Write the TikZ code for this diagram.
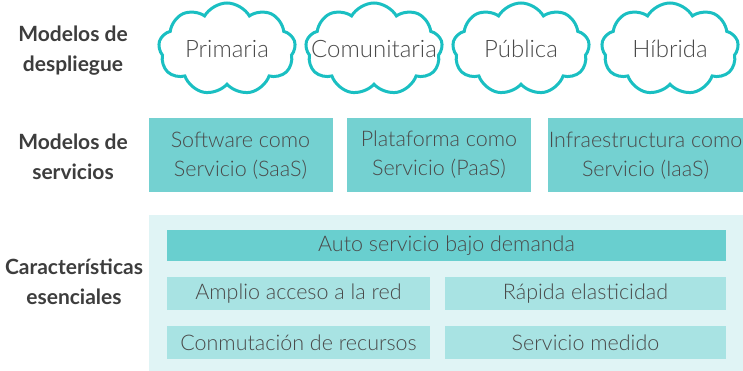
\documentclass[tikz,border=0pt]{standalone}
\usepackage{fontspec}
\setmainfont{Lato}
\newfontfamily\lightfont{Lato Light}
\usetikzlibrary{shapes.symbols}
\definecolor{cloudline}{HTML}{1ABFC2}
\definecolor{servfill}{HTML}{74D1D1}
\definecolor{barfill}{HTML}{69CFCF}
\definecolor{featfill}{HTML}{A8E3E3}
\definecolor{backfill}{HTML}{E0F4F5}
\definecolor{labeltext}{HTML}{3D3D3D}
\definecolor{boxtext}{HTML}{4A4A4A}
\newcommand{\cloudtext}[1]{\makebox[0pt][c]{#1}}

\begin{document}
\begin{tikzpicture}[
x=1pt, y=-1pt,
rowlabel/.style={align=center, text=labeltext, font=\bfseries\fontsize{21}{30}\selectfont},
cloudbox/.style={
    cloud, cloud puffs=9, cloud puff arc=120, aspect=1.5,
    draw=cloudline, line width=3pt, fill=white,
    minimum width=137pt, minimum height=92pt, inner sep=0pt,
    text=boxtext, font=\lightfont\fontsize{24}{28}\selectfont},
servbox/.style={
    fill=servfill, inner sep=0pt, align=center, minimum height=74pt,
    text=boxtext, font=\lightfont\fontsize{21.5}{29}\selectfont},
featbox/.style={
    fill=featfill, inner sep=0pt, minimum height=33pt,
    text=boxtext, font=\lightfont\fontsize{21.5}{24}\selectfont},
]
\useasboundingbox (0,0) rectangle (743,371);

\node[rowlabel] (deploy) at (73,51) {Modelos de\\despliegue};
\node[rowlabel] (service) at (73,157) {Modelos de\\servicios};
\node[rowlabel] (feature) at (74,282) {Características\\esenciales};

\node[cloudbox] (primaria) at (227,49) {\cloudtext{Primaria}};
\node[cloudbox] (comunitaria) at (374,49) {\cloudtext{Comunitaria}};
\node[cloudbox] (publica) at (521,49) {\cloudtext{Pública}};
\node[cloudbox] (hibrida) at (670,49) {\cloudtext{Híbrida}};

\node[servbox, minimum width=184pt] (saas) at (240.5,155.5) {Software como\\Servicio (SaaS)};
\node[servbox, minimum width=184pt] (paas) at (439,155) {Plataforma como\\Servicio (PaaS)};
\node[servbox, minimum width=195pt] (iaas) at (645.5,155.5) {Infraestructura como\\Servicio (IaaS)};

\fill[backfill] (149,215) rectangle (743,371);
\node[featbox, fill=barfill, minimum width=559pt, minimum height=31pt] (selfservice) at (446.5,245.5) {Auto servicio bajo demanda};
\node[featbox, minimum width=263pt] (access) at (298.5,293.5) {Amplio acceso a la red};
\node[featbox, minimum width=281pt] (elastic) at (585.5,293.5) {Rápida elasticidad};
\node[featbox, minimum width=263pt] (pooling) at (298.5,342.5) {Conmutación de recursos};
\node[featbox, minimum width=281pt] (measured) at (585.5,342.5) {Servicio medido};

\end{tikzpicture}
\end{document}
